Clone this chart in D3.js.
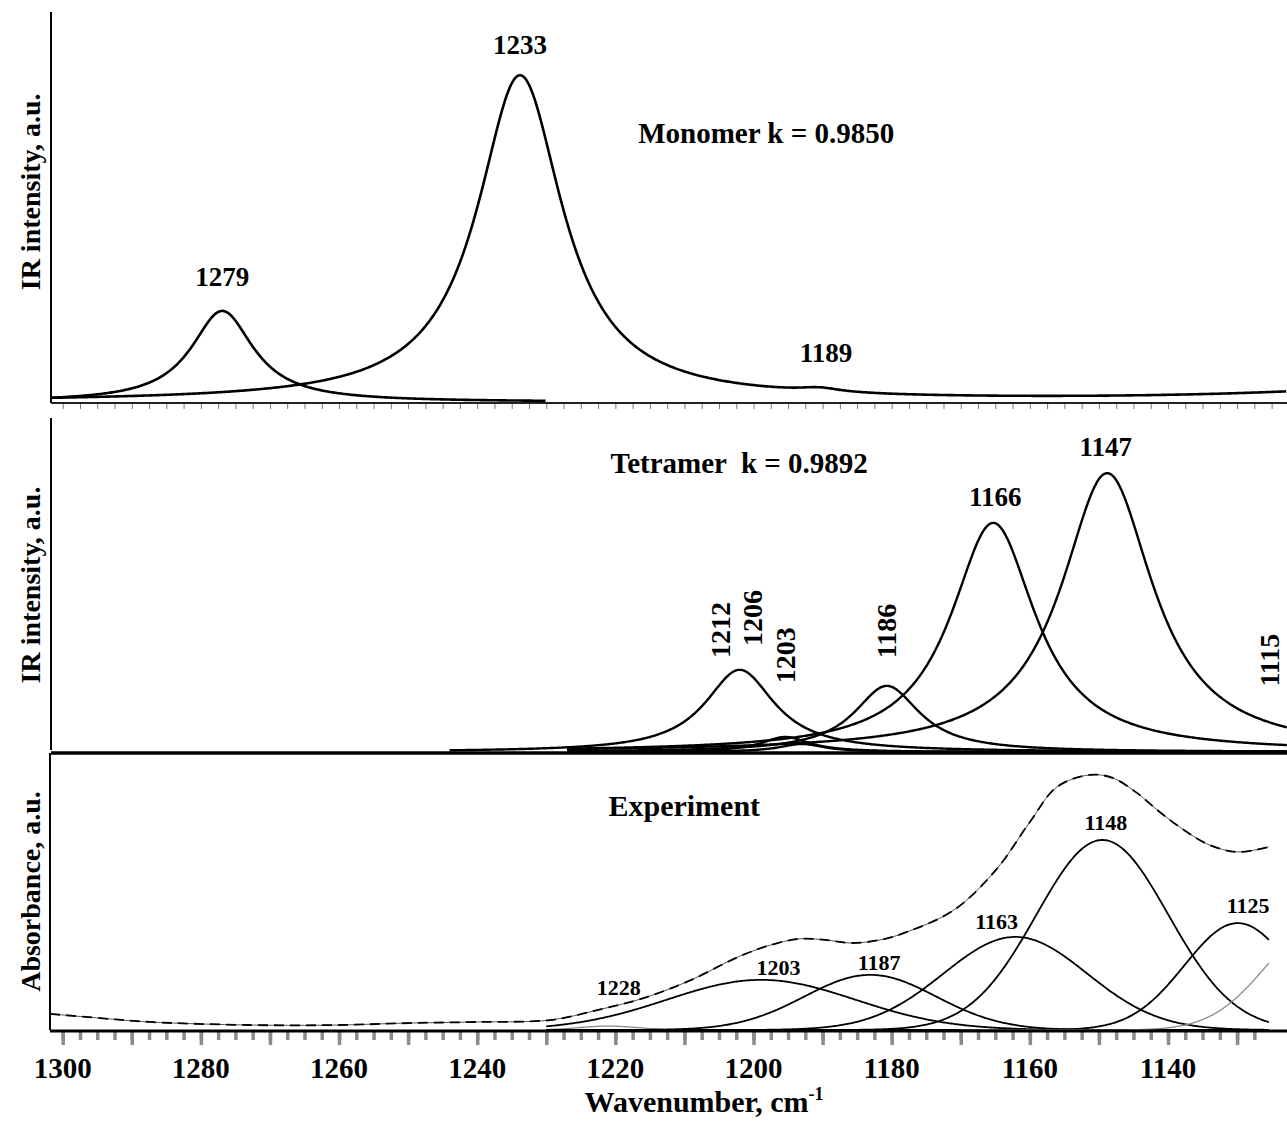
<!DOCTYPE html>
<html>
<head>
<meta charset="utf-8">
<script src="https://cdn.jsdelivr.net/npm/d3@7"></script>
<style>
  body { margin: 0; background: #fff; }
  svg text { font-family: "Liberation Serif", "Times New Roman", serif; font-weight: bold; fill: #000; }
</style>
</head>
<body>
<div id="plot"></div>
<script>
// ---- Monomer (Lorentzian bands: centre cm-1, height a.u., half width cm-1)
const monoCentre = [1276.9, 1233.8, 1190.4, 1100];
const monoHeight = [23.3, 83.4, 1.0, 3.8];
const monoHalfWidth = [5.5, 7.5, 3.6, 29];
const monoOffset = 0.25;
// two traces: the 1279 band alone, the rest summed
const monoTraceBands = [[0], [1, 2, 3]];
const monoTraceFrom = [1301.7, 1301.7];
const monoTraceTo = [1230, 1122.8];
const monoLabels = ["1279", "1233", "1189"];
const monoLabelAt = [1276.9, 1233.8, 1189.5];
const monoLabelLevel = [32.2, 91.6, 12.8];

// ---- Tetramer (Lorentzian bands)
const tetraCentre = [1202.0, 1195.4, 1193.0, 1180.7, 1165.3, 1148.8];
const tetraHeight = [24.6, 4.5, 2.4, 19.8, 68.6, 83.5];
const tetraHalfWidth = [6.15, 4.3, 4.0, 5.8, 7.5, 8.1];
const tetraFrom = [1244, 1227, 1227, 1227, 1227, 1227];
const tetraLabels = ["1166", "1147"];
const tetraLabelAt = [1165.0, 1149.0];
const tetraLabelLevel = [76.3, 91.3];
const tetraVertLabels = ["1212", "1206", "1203", "1186", "1115"];
const tetraVertAt = [1204.8, 1200.2, 1195.3, 1180.8, 1125.3];
const tetraVertLevel = [36.5, 40.1, 29.0, 36.2, 27.5];

// ---- Experiment: fitted Gaussian bands (centre, height a.u., sigma cm-1)
const expCentre = [1221, 1198.9, 1183.1, 1162.1, 1149.5, 1129.9, 1117.8];
const expHeight = [1.4, 18.1, 19.9, 33.6, 68.6, 38.6, 37.9];
const expSigma = [4.3, 13.6, 9.55, 10.4, 9.55, 7.7, 8.0];
const expFrom = [1230, 1230, 1230, 1230, 1230, 1230, 1170];
const expTo = 1125.3;
// measured spectrum (dashed envelope)
const expSpecW = [1301.8, 1294.6, 1287.4, 1272.9, 1260, 1250, 1240, 1229.4, 1222.6, 1215.8,
    1209.0, 1202.2, 1197.5, 1193.4, 1189.6, 1185.9, 1181.7, 1177.8, 1171.0, 1164.9,
    1160.1, 1156.1, 1151.3, 1148.0, 1144.5, 1141.2, 1137.7, 1134.0, 1130.2, 1127.4, 1125.4];
const expSpecVal = [5.8, 4.3, 2.9, 1.8, 1.8, 2.5, 2.9, 3.6, 7.2, 11.6,
    18.1, 26.4, 30.7, 32.9, 32.5, 31.4, 32.5, 35.4, 43.3, 57.8,
    74.7, 87.7, 92.1, 91.0, 85.6, 78.7, 72.2, 66.8, 64.3, 65.0, 66.1];
const expLabels = ["1228", "1203", "1187", "1163", "1148", "1125"];
const expLabelAt = [1219.5, 1196.4, 1181.8, 1164.8, 1149.0, 1128.4];
const expLabelLevel = [15.2, 22.4, 24.5, 39.0, 75.0, 44.8];

// ---- axis
const xTickLabels = [1300, 1280, 1260, 1240, 1220, 1200, 1180, 1160, 1140];

const W = 1287, H = 1121;
const svg = d3.select("#plot").append("svg")
    .attr("width", W)
    .attr("height", H);

const x = d3.scaleLinear().domain([1300, 1140]).range([62.7, 1168]);
const left = 51, right = W;
const wRight = x.invert(right);

const yTop = d3.scaleLinear().domain([0, 100]).range([403, 12]);
const yMid = d3.scaleLinear().domain([0, 100]).range([752, 418]);
const yBot = d3.scaleLinear().domain([0, 100]).range([1030, 753]);

const lor = (w, c, a, h) => a / (1 + ((w - c) / h) ** 2);
const gau = (w, c, a, s) => a * Math.exp(-((w - c) ** 2) / (2 * s * s));

// sample wavenumbers from a to b (descending)
const grid = (a, b) => d3.range(a, b - 0.001, -0.2);

const line = (y) => d3.line().x(d => x(d[0])).y(d => y(d[1]));

// ===== Top panel: monomer
svg.append("line").attr("x1", left).attr("x2", left).attr("y1", 12).attr("y2", 403)
    .attr("stroke", "#000").attr("stroke-width", 2);
svg.append("line").attr("x1", left).attr("x2", right).attr("y1", 403).attr("y2", 403)
    .attr("stroke", "#222").attr("stroke-width", 2);
svg.append("g")
    .attr("transform", "translate(0,404)")
    .call(d3.axisBottom(x).tickValues(d3.range(1300, 1122, -2.5)).tickSize(5).tickFormat(""))
    .call(g => g.select(".domain").remove())
    .call(g => g.selectAll(".tick line").attr("stroke", "#777").attr("stroke-width", 1));

monoTraceBands.forEach((bands, i) => {
    const pts = grid(monoTraceFrom[i], monoTraceTo[i]).map(w =>
        [w, monoOffset + d3.sum(bands, b => lor(w, monoCentre[b], monoHeight[b], monoHalfWidth[b]))]);
    svg.append("path").datum(pts)
        .attr("d", line(yTop))
        .attr("fill", "none").attr("stroke", "#000").attr("stroke-width", 2.6)
        .attr("stroke-linejoin", "round");
});

svg.selectAll(".monoLab").data(monoLabels).join("text")
    .attr("x", (d, i) => x(monoLabelAt[i]))
    .attr("y", (d, i) => yTop(monoLabelLevel[i]))
    .attr("text-anchor", "middle").attr("dominant-baseline", "central")
    .attr("font-size", 27).text(d => d);

svg.append("text").attr("x", x(1216.7)).attr("y", yTop(69))
    .attr("dominant-baseline", "central").attr("font-size", 29)
    .text("Monomer k = 0.9850");

// ===== Middle panel: tetramer
svg.append("line").attr("x1", left).attr("x2", left).attr("y1", 418).attr("y2", 750)
    .attr("stroke", "#000").attr("stroke-width", 2);

tetraCentre.forEach((c, i) => {
    const pts = grid(tetraFrom[i], wRight).map(w => [w, lor(w, c, tetraHeight[i], tetraHalfWidth[i])]);
    svg.append("path").datum(pts)
        .attr("d", line(yMid))
        .attr("fill", "none").attr("stroke", "#000").attr("stroke-width", 2.4)
        .attr("stroke-linejoin", "round");
});
svg.append("line").attr("x1", left).attr("x2", right).attr("y1", 753).attr("y2", 753)
    .attr("stroke", "#000").attr("stroke-width", 3.5);

svg.selectAll(".tetraLab").data(tetraLabels).join("text")
    .attr("x", (d, i) => x(tetraLabelAt[i]))
    .attr("y", (d, i) => yMid(tetraLabelLevel[i]))
    .attr("text-anchor", "middle").attr("dominant-baseline", "central")
    .attr("font-size", 27).text(d => d);

svg.selectAll(".tetraVert").data(tetraVertLabels).join("text")
    .attr("transform", (d, i) => `translate(${x(tetraVertAt[i])},${yMid(tetraVertLevel[i])}) rotate(-90)`)
    .attr("text-anchor", "middle").attr("dominant-baseline", "central")
    .attr("font-size", 28).text(d => d);

svg.append("text").attr("x", x(1220.7)).attr("y", yMid(86.5))
    .attr("dominant-baseline", "central").attr("font-size", 29)
    .attr("xml:space", "preserve")
    .text("Tetramer  k = 0.9892");

// ===== Bottom panel: experiment
svg.append("line").attr("x1", 50).attr("x2", 50).attr("y1", 753).attr("y2", 1030)
    .attr("stroke", "#000").attr("stroke-width", 2);

const greyBands = new Set([0, 6]);
expCentre.forEach((c, i) => {
    const pts = grid(expFrom[i], expTo).map(w => [w, gau(w, c, expHeight[i], expSigma[i])]);
    svg.append("path").datum(pts)
        .attr("d", line(yBot))
        .attr("fill", "none")
        .attr("stroke", greyBands.has(i) ? "#8a8a8a" : "#000")
        .attr("stroke-width", greyBands.has(i) ? 1.3 : 1.8);
});

const spectrum = expSpecW.map((w, i) => [w, expSpecVal[i]]);
const specLine = line(yBot).curve(d3.curveCatmullRom.alpha(0.5));
svg.append("path").datum(spectrum)
    .attr("d", specLine)
    .attr("fill", "none").attr("stroke", "#555").attr("stroke-width", 1);
svg.append("path").datum(spectrum)
    .attr("d", specLine)
    .attr("fill", "none").attr("stroke", "#000").attr("stroke-width", 1.8)
    .attr("stroke-dasharray", "10,6");

svg.selectAll(".expLab").data(expLabels).join("text")
    .attr("x", (d, i) => x(expLabelAt[i]))
    .attr("y", (d, i) => yBot(expLabelLevel[i]))
    .attr("text-anchor", "middle").attr("dominant-baseline", "central")
    .attr("font-size", 22).text(d => d);

svg.append("text").attr("x", x(1221)).attr("y", yBot(81))
    .attr("dominant-baseline", "central").attr("font-size", 30)
    .text("Experiment");

// x axis with grey ticks
svg.append("g")
    .attr("transform", "translate(0,1032)")
    .call(d3.axisBottom(x).tickValues(d3.range(1300, 1125, -2.5)).tickSize(8).tickFormat(""))
    .call(g => g.select(".domain").remove())
    .call(g => g.selectAll(".tick line").attr("stroke", "#8a8a8a").attr("stroke-width", 3.5));
svg.append("g")
    .attr("transform", "translate(0,1032)")
    .call(d3.axisBottom(x).tickValues(d3.range(1300, 1125, -10)).tickSize(13).tickFormat(""))
    .call(g => g.select(".domain").remove())
    .call(g => g.selectAll(".tick line").attr("stroke", "#8a8a8a").attr("stroke-width", 3.5));
svg.append("line").attr("x1", 50).attr("x2", right).attr("y1", 1031).attr("y2", 1031)
    .attr("stroke", "#000").attr("stroke-width", 3);

svg.selectAll(".xLab").data(xTickLabels).join("text")
    .attr("x", d => x(d)).attr("y", 1078)
    .attr("text-anchor", "middle").attr("font-size", 29)
    .text(d => d);

const xTitle = svg.append("text").attr("x", 704).attr("y", 1112)
    .attr("text-anchor", "middle").attr("font-size", 30);
xTitle.append("tspan").text("Wavenumber, cm");
xTitle.append("tspan").attr("font-size", 18).attr("dy", -12).text("-1");

// y titles
const yTitles = ["IR intensity, a.u.", "IR intensity, a.u.", "Absorbance, a.u."];
const yTitleMid = [yTop(54), yMid(50), yBot(50)];
svg.selectAll(".yTitle").data(yTitles).join("text")
    .attr("transform", (d, i) => `translate(30,${yTitleMid[i]}) rotate(-90)`)
    .attr("text-anchor", "middle").attr("dominant-baseline", "central")
    .attr("font-size", 28).text(d => d);
</script>
</body>
</html>
